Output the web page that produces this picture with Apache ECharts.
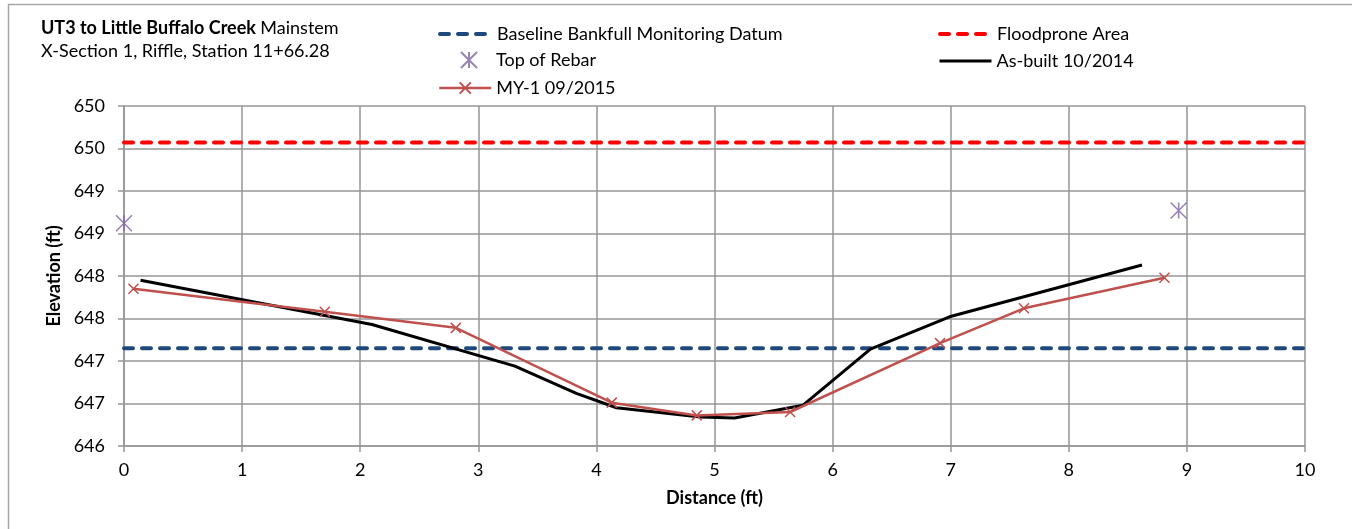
<!DOCTYPE html>
<html>
<head>
<meta charset="utf-8">
<script src="https://cdn.jsdelivr.net/npm/echarts@6/dist/echarts.min.js"></script>
<style>
html,body{margin:0;padding:0;background:#fff;}
#chart{width:1352px;height:529px;}
</style>
</head>
<body>
<div id="chart"></div>
<script>
// ---- data ----
const xTicks = [0,1,2,3,4,5,6,7,8,9,10];
const baselineX = [0, 10];
const baselineY = [647.15, 647.15];
const floodX = [0, 10];
const floodY = [649.57, 649.57];
const rebarX = [0.0, 8.93];
const rebarY = [648.62, 648.77];
const asBuiltX = [0.14, 2.10, 3.31, 3.83, 4.17, 4.88, 5.17, 5.75, 6.32, 6.99, 8.62];
const asBuiltY = [647.95, 647.43, 646.94, 646.62, 646.45, 646.34, 646.33, 646.48, 647.14, 647.52, 648.13];
const myX = [0.08, 1.70, 2.81, 4.13, 4.85, 5.64, 6.91, 7.62, 8.81];
const myY = [647.85, 647.58, 647.39, 646.51, 646.36, 646.40, 647.21, 647.62, 647.98];

const names = ['Baseline Bankfull Monitoring Datum','Floodprone Area','Top of Rebar','As-built 10/2014','MY-1 09/2015'];
const zip = (a,b) => a.map((v,i)=>[v,b[i]]);

const FONT = 'Lato';
const FS = 18;
const chart = echarts.init(document.getElementById('chart'), null, {renderer:'canvas'});

const legendBase = {
  orient:'horizontal', itemWidth:52, itemHeight:14, itemGap:0,
  textStyle:{fontFamily:FONT, fontSize:FS, color:'#000'}
};
const dashLeg = {itemStyle:{opacity:0}, lineStyle:{width:4, type:[9,9], cap:'round'}};

chart.setOption({
  animation:false,
  backgroundColor:'#fff',
  textStyle:{fontFamily:FONT},
  title:{
    left:36, top:12,
    text:'{b|UT3 to Little Buffalo Creek} {n|Mainstem}\n{n|X-Section 1, Riffle, Station 11+66.28}',
    textStyle:{
      rich:{
        b:{fontFamily:FONT, fontSize:FS, fontWeight:'bold', color:'#000', lineHeight:23},
        n:{fontFamily:FONT, fontSize:FS, fontWeight:'normal', color:'#000', lineHeight:23}
      }
    }
  },
  graphic:[{type:'rect', shape:{x:8.5,y:4.5,width:1400,height:600}, style:{fill:'none', stroke:'#A6A6A6', lineWidth:1.5}, silent:true}],
  legend:[
    Object.assign({}, legendBase, dashLeg, {data:[names[0]], left:433, top:20}),
    Object.assign({}, legendBase, dashLeg, {data:[names[1]], left:933, top:20}),
    Object.assign({}, legendBase, {data:[names[2]], left:455, top:46, itemWidth:16, itemHeight:16,
      textStyle:{fontFamily:FONT, fontSize:FS, color:'#000', padding:[0,0,0,14]}}),
    Object.assign({}, legendBase, {itemStyle:{opacity:0}, lineStyle:{width:3}, data:[names[3]], left:933, top:47}),
    Object.assign({}, legendBase, {lineStyle:{width:2.5}, data:[names[4]], left:433, top:74})
  ],
  grid:{left:124, right:47, top:106, bottom:83, containLabel:false},
  xAxis:{
    type:'value', min:0, max:10, interval:1,
    name:'Distance (ft)', nameLocation:'middle', nameGap:43,
    nameTextStyle:{fontFamily:FONT, fontSize:FS, fontWeight:'bold', color:'#000'},
    axisLine:{show:true, onZero:false, lineStyle:{color:'#969696', width:1.5}},
    axisTick:{show:true, length:6, lineStyle:{color:'#969696', width:1.5}},
    axisLabel:{margin:15, fontFamily:FONT, fontSize:FS, color:'#000', formatter:v=>String(v)},
    splitLine:{show:true, lineStyle:{color:'#969696', width:1.5}}
  },
  yAxis:{
    type:'value', min:646, max:650, interval:0.5,
    name:'Elevation (ft)', nameLocation:'middle', nameGap:58,
    nameTextStyle:{fontFamily:FONT, fontSize:FS, fontWeight:'bold', color:'#000'},
    axisLine:{show:true, lineStyle:{color:'#969696', width:1.5}},
    axisTick:{show:true, length:6, lineStyle:{color:'#969696', width:1.5}},
    axisLabel:{margin:19, fontFamily:FONT, fontSize:FS, color:'#000', formatter:v=>Math.round(v).toString()},
    splitLine:{show:true, lineStyle:{color:'#969696', width:1.5}}
  },
  series:[
    {name:names[0], type:'line', data:zip(baselineX, baselineY), symbol:'none', z:2,
     itemStyle:{color:'#1F497D'}, lineStyle:{color:'#1F497D', width:4, type:[9,9], cap:'round'}},
    {name:names[1], type:'line', data:zip(floodX, floodY), symbol:'none', z:2,
     itemStyle:{color:'#FF0000'}, lineStyle:{color:'#FF0000', width:4, type:[9,9], cap:'round'}},
    {name:names[2], type:'scatter', data:zip(rebarX, rebarY), z:3,
     symbol:'path://M0,0L16,16M16,0L0,16M8,0L8,16', symbolSize:16,
     itemStyle:{color:'rgba(0,0,0,0)', borderColor:'#8064A2', borderWidth:1.6}},
    {name:names[3], type:'line', data:zip(asBuiltX, asBuiltY), symbol:'none', z:4,
     itemStyle:{color:'#000'}, lineStyle:{color:'#000', width:3}},
    {name:names[4], type:'line', data:zip(myX, myY), z:5,
     symbol:'path://M0,0L10,10M10,0L0,10', symbolSize:10, showSymbol:true,
     itemStyle:{color:'rgba(0,0,0,0)', borderColor:'#C0504D', borderWidth:1.5},
     lineStyle:{color:'#C0504D', width:2.5}}
  ]
});
</script>
</body>
</html>
